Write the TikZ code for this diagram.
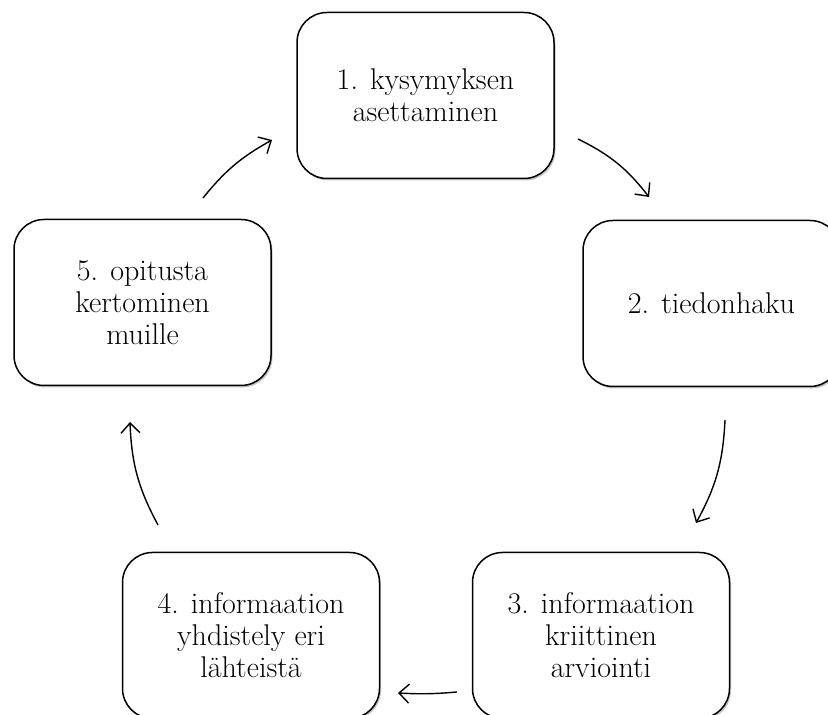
\documentclass[tikz,border=0pt]{standalone}
\usetikzlibrary{arrows.meta,shadows}
\begin{document}
\begin{tikzpicture}[x=1pt,y=1pt,
  stage/.style={draw,line width=1.5pt,rounded corners=30pt,fill=white,
    minimum width=257pt,minimum height=166pt,align=center,
    font=\fontsize{30}{32}\selectfont,
    drop shadow={shadow xshift=1.5pt,shadow yshift=-2pt,fill=black!45,opacity=0.5}},
  cyc/.style={line width=1.4pt,-{Straight Barb[length=10pt,width=19pt,line width=1.4pt]}}]
\useasboundingbox (0,0) rectangle (828,715);
% stages of the cycle
\node[stage] (ask) at (425.5,619.5) {1. kysymyksen\\asettaminen};
\node[stage] (search) at (711.5,411.5) {2. tiedonhaku};
\node[stage] (judge) at (601,79.5) {3. informaation\\kriittinen\\arviointi};
\node[stage] (combine) at (251,79.5) {4. informaation\\yhdistely eri\\lähteistä};
\node[stage] (share) at (142.5,412.5) {5. opitusta\\kertominen\\muille};
% free ends of the arrows
\coordinate (a1s) at (578,576); \coordinate (a1e) at (649,518);
\coordinate (a2s) at (725,295); \coordinate (a2e) at (696,192);
\coordinate (a3s) at (457,23);  \coordinate (a3e) at (398,22);
\coordinate (a4s) at (158,190); \coordinate (a4e) at (130,293);
\coordinate (a5s) at (203,517); \coordinate (a5e) at (272,575);
\draw[cyc] (a1s) to[bend left=13] (a1e);
\draw[cyc] (a2s) to[bend left=13] (a2e);
\draw[cyc] (a3s) to[bend left=4] (a3e);
\draw[cyc] (a4s) to[bend left=13] (a4e);
\draw[cyc] (a5s) to[bend left=11] (a5e);
\end{tikzpicture}
\end{document}
